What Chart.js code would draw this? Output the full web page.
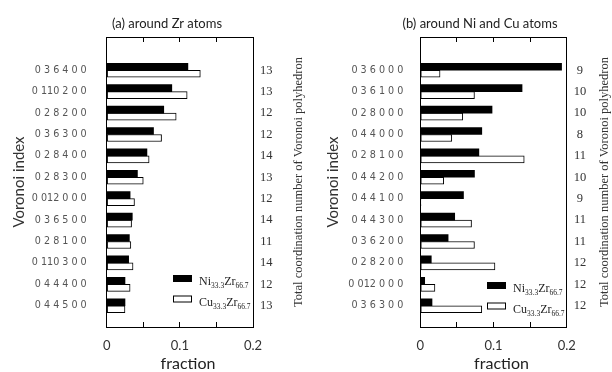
<!DOCTYPE html>
<html>
<head>
<meta charset="utf-8">
<script src="https://cdn.jsdelivr.net/npm/chart.js@4"></script>
<style>
  body { margin: 0; background: #fff; width: 612px; height: 372px; overflow: hidden; position: relative; }
  canvas { position: absolute; top: 0; }
  #chartZr { left: 0; }
  #chartNi { left: 306px; }
  .frame { position: absolute; box-sizing: border-box; border: 1px solid #000; pointer-events: none; }
</style>
</head>
<body>
<canvas id="chartZr" width="306" height="372"></canvas>
<canvas id="chartNi" width="306" height="372"></canvas>
<script>
// (a) around Zr atoms
const zrIndex = ['0 3 6 4 0 0', '0 110 2 0 0', '0 2 8 2 0 0', '0 3 6 3 0 0', '0 2 8 4 0 0', '0 2 8 3 0 0',
                 '0 012 0 0 0', '0 3 6 5 0 0', '0 2 8 1 0 0', '0 110 3 0 0', '0 4 4 4 0 0', '0 4 4 5 0 0'];
const zrNi = [0.111, 0.089, 0.078, 0.064, 0.055, 0.042, 0.032, 0.035, 0.031, 0.030, 0.025, 0.025];
const zrCu = [0.128, 0.110, 0.095, 0.075, 0.058, 0.050, 0.038, 0.034, 0.033, 0.036, 0.032, 0.025];
const zrCN = ['13', '13', '12', '12', '14', '13', '12', '14', '11', '14', '12', '13'];

// (b) around Ni and Cu atoms
const niIndex = ['0 3 6 0 0 0', '0 3 6 1 0 0', '0 2 8 0 0 0', '0 4 4 0 0 0', '0 2 8 1 0 0', '0 4 4 2 0 0',
                 '0 4 4 1 0 0', '0 4 4 3 0 0', '0 3 6 2 0 0', '0 2 8 2 0 0', '0 012 0 0 0', '0 3 6 3 0 0'];
const niNi = [0.193, 0.139, 0.098, 0.084, 0.080, 0.074, 0.059, 0.047, 0.038, 0.015, 0.006, 0.016];
const niCu = [0.027, 0.074, 0.058, 0.043, 0.142, 0.032, 0.001, 0.070, 0.074, 0.102, 0.020, 0.084];
const niCN = ['9', '10', '10', '8', '11', '10', '9', '11', '11', '12', '12', '12'];

// legend names: [element, subscript, element, subscript]
const seriesNames = [['Ni', '33.3', 'Zr', '66.7'], ['Cu', '33.3', 'Zr', '66.7']];
const xLabels = ['0', '0.1', '0.2'];
const yTitle = 'Voronoi index';
const rightTitle = 'Total coordination number of Voronoi polyhedron';
const xTitle = 'fraction';

const serif = '"Liberation Serif", "Times New Roman", serif';
const sans = 'Lato, "Open Sans", sans-serif';
const ink = '#000';
const snap = v => Math.round(v - 0.5);

function drawName(ctx, parts, x, y) {
  parts.forEach((p, k) => {
    const sub = k % 2 === 1;
    ctx.font = (sub ? '7.5px ' : '12px ') + serif;
    ctx.fillText(p, x, sub ? y + 3 : y);
    x += ctx.measureText(p).width;
  });
}

// titles, plot frame with inward ticks, rotated right-hand title, legend with subscripts
const panelDecor = {
  id: 'panelDecor',
  afterDraw(chart, args, o) {
    const { ctx, chartArea: a, scales: { x } } = chart;
    ctx.save();
    ctx.fillStyle = '#222';
    ctx.textAlign = 'center';
    ctx.textBaseline = 'middle';
    ctx.font = '13px ' + sans;
    ctx.fillText(o.title, o.titleX, 24);
    ctx.font = '16px ' + sans;
    ctx.fillText(xTitle, o.xTitleX, 364);

    const l = snap(a.left), r = snap(a.right), t = snap(a.top), b = snap(a.bottom);
    ctx.fillStyle = ink;
    ctx.fillRect(l, t, r - l + 1, 1);
    ctx.fillRect(l, b, r - l + 1, 1);
    ctx.fillRect(l, t, 1, b - t + 1);
    ctx.fillRect(r, t, 1, b - t + 1);
    x.ticks.forEach(tk => {
      const px = snap(x.getPixelForValue(tk.value));
      ctx.fillRect(px, t, 1, 5);
      ctx.fillRect(px, b - 4, 1, 5);
    });

    ctx.save();
    ctx.translate(o.rightTitleX, (a.top + a.bottom) / 2);
    ctx.rotate(-Math.PI / 2);
    ctx.fillStyle = '#333';
    ctx.font = '12.5px ' + serif;
    ctx.fillText(rightTitle, 0, 0);
    ctx.restore();

    ctx.textAlign = 'left';
    ctx.textBaseline = 'alphabetic';
    chart.data.datasets.forEach((ds, k) => {
      const by = o.legendY + k * 20.5;
      const bx = o.legendX;
      ctx.fillStyle = '#000';
      ctx.fillRect(bx, by, 19, 7);
      if (ds.backgroundColor !== '#000') {
        ctx.fillStyle = ds.backgroundColor;
        ctx.fillRect(bx + 1, by + 1, 17, 5);
      }
      ctx.fillStyle = '#222';
      drawName(ctx, seriesNames[k], bx + 26, by + 10);
    });
    ctx.restore();
  }
};

function makeChart(id, index, ni, cu, cn, d) {
  const idxTicks = s => { s.ticks = index.map((_, i) => ({ value: i })); };
  const yRange = { min: -0.99, max: 11.43, reverse: true };
  const frame = { display: true, color: ink, width: 1 };
  const inwardTicks = { display: true, drawOnChartArea: false, drawTicks: true, tickLength: -5, color: ink };
  return new Chart(document.getElementById(id), {
    type: 'bar',
    data: {
      datasets: [
        { label: seriesNames[0].join(''), data: ni.map((v, i) => ({ x: v, y: i })),
          backgroundColor: '#000', borderColor: '#000', borderWidth: 0, barThickness: 7 },
        { label: seriesNames[1].join(''), data: cu.map((v, i) => ({ x: v, y: i })),
          backgroundColor: '#fff', borderColor: '#000', borderWidth: 1, borderSkipped: false, barThickness: 7 }
      ]
    },
    options: {
      responsive: false,
      animation: false,
      indexAxis: 'y',
      layout: { padding: { top: 37, left: 0, right: 0, bottom: 0 } },
      plugins: {
        legend: { display: false },
        tooltip: { enabled: false },
        panelDecor: d
      },
      scales: {
        x: {
          type: 'linear', position: 'bottom', min: 0, max: 0.2,
          grid: inwardTicks,
          border: frame,
          afterFit: s => { s.height = 45; },
          ticks: {
            stepSize: 0.05, autoSkip: false, maxRotation: 0, padding: 16,
            color: '#333', font: { family: sans, size: 13 },
            callback: v => Math.abs(v * 10 - Math.round(v * 10)) < 1e-6 ? xLabels[Math.round(v * 10)] : ''
          }
        },
        x2: {
          type: 'linear', position: 'top', min: 0, max: 0.2,
          grid: inwardTicks,
          border: frame,
          afterFit: s => { s.height = 0; },
          ticks: { stepSize: 0.05, autoSkip: false, maxRotation: 0, display: false }
        },
        y: {
          type: 'linear', position: 'left', ...yRange,
          grid: { display: false, drawTicks: false },
          border: frame,
          afterBuildTicks: idxTicks,
          afterFit: s => { s.width = d.leftW; },
          ticks: { padding: d.labelPad, color: '#555', font: { family: '"DejaVu Sans"', size: 9.6 },
                   callback: v => index[v] },
          title: { display: true, text: yTitle, color: '#333', font: { family: sans, size: 15 },
                   padding: { top: d.yTitlePad, bottom: 0 } }
        },
        y2: {
          type: 'linear', position: 'right', ...yRange,
          grid: { display: false, drawTicks: false },
          border: frame,
          afterBuildTicks: idxTicks,
          afterFit: s => { s.width = d.rightW; },
          ticks: { padding: 7, crossAlign: 'center', color: '#333', font: { family: serif, size: 12.5 },
                   callback: v => cn[v] }
        }
      }
    },
    plugins: [panelDecor]
  });
}

// plot-area outline placed from the chart's own chartArea
function outline(chart, offsetX) {
  const a = chart.chartArea;
  const l = snap(a.left), r = snap(a.right), t = snap(a.top), b = snap(a.bottom);
  const div = document.createElement('div');
  div.className = 'frame';
  div.style.left = (offsetX + l) + 'px';
  div.style.top = t + 'px';
  div.style.width = (r - l + 1) + 'px';
  div.style.height = (b - t + 1) + 'px';
  document.body.appendChild(div);
}

const zrChart = makeChart('chartZr', zrIndex, zrNi, zrCu, zrCN, {
  title: '(a) around Zr atoms', titleX: 167, xTitleX: 188, rightTitleX: 299,
  legendX: 173, legendY: 275, leftW: 106.7, rightW: 53, labelPad: 20, yTitlePad: 10
});
const niChart = makeChart('chartNi', niIndex, niNi, niCu, niCN, {
  title: '(b) around Ni and Cu atoms', titleX: 174, xTitleX: 195.5, rightTitleX: 299,
  legendX: 181, legendY: 282, leftW: 114.3, rightW: 45.3, labelPad: 17, yTitlePad: 18
});
outline(zrChart, 0);
outline(niChart, 306);
</script>
</body>
</html>
